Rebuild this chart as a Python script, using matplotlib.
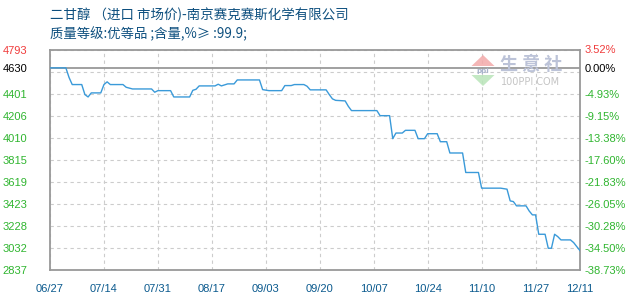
import matplotlib
matplotlib.use('Agg')
import matplotlib.pyplot as plt
import matplotlib.dates as mdates
from matplotlib.patches import Polygon
import pandas as pd

# ---------------- data ----------------
title_line1 = "二甘醇 （进口 市场价)-南京赛克赛斯化学有限公司"
title_line2 = "质量等级:优等品 ;含量,%≥ :99.9;"

dates = [
    "2019-06-27", "2019-07-02", "2019-07-03", "2019-07-04", "2019-07-07", "2019-07-08",
    "2019-07-09", "2019-07-10", "2019-07-13", "2019-07-14", "2019-07-15", "2019-07-16",
    "2019-07-20", "2019-07-21", "2019-07-23", "2019-07-29", "2019-07-30", "2019-07-31",
    "2019-08-04", "2019-08-05", "2019-08-10", "2019-08-11", "2019-08-12", "2019-08-13",
    "2019-08-18", "2019-08-19", "2019-08-20", "2019-08-22", "2019-08-24", "2019-08-25",
    "2019-09-01", "2019-09-02", "2019-09-04", "2019-09-08", "2019-09-09", "2019-09-11",
    "2019-09-12", "2019-09-15", "2019-09-16", "2019-09-17", "2019-09-22", "2019-09-23",
    "2019-09-24", "2019-09-25", "2019-09-28", "2019-09-29", "2019-09-30", "2019-10-08",
    "2019-10-09", "2019-10-12", "2019-10-13", "2019-10-14", "2019-10-16", "2019-10-17",
    "2019-10-20", "2019-10-21", "2019-10-23", "2019-10-24", "2019-10-27", "2019-10-28",
    "2019-10-30", "2019-10-31", "2019-11-04", "2019-11-05", "2019-11-09", "2019-11-10",
    "2019-11-16", "2019-11-18", "2019-11-19", "2019-11-20", "2019-11-21", "2019-11-24",
    "2019-11-25", "2019-11-26", "2019-11-27", "2019-11-28", "2019-11-30", "2019-12-01",
    "2019-12-02", "2019-12-03", "2019-12-04", "2019-12-05", "2019-12-08", "2019-12-09",
    "2019-12-10", "2019-12-11",
]
prices = [
    4630, 4630, 4545, 4482, 4482, 4393,
    4372, 4408, 4408, 4482, 4506, 4482,
    4482, 4458, 4443, 4443, 4414, 4428,
    4428, 4372, 4372, 4431, 4440, 4470,
    4470, 4485, 4470, 4488, 4488, 4523,
    4523, 4437, 4428, 4428, 4473, 4473,
    4482, 4482, 4467, 4435, 4435, 4393,
    4355, 4342, 4337, 4289, 4251, 4251,
    4206, 4206, 4002, 4052, 4052, 4076,
    4076, 4002, 4002, 4046, 4046, 3975,
    3975, 3875, 3875, 3702, 3702, 3563,
    3563, 3554, 3450, 3444, 3406, 3406,
    3360, 3326, 3326, 3154, 3154, 3030,
    3030, 3154, 3133, 3104, 3104, 3080,
    3044, 3009,
]

x_tick_dates = ["2019-06-27", "2019-07-14", "2019-07-31", "2019-08-17", "2019-09-03",
                "2019-09-20", "2019-10-07", "2019-10-24", "2019-11-10", "2019-11-27",
                "2019-12-11"]
x_tick_labels = ["06/27", "07/14", "07/31", "08/17", "09/03", "09/20", "10/07",
                 "10/24", "11/10", "11/27", "12/11"]

base_price = 4630
base_label_left = "4630"
base_label_right = "0.00%"
y_min, y_max = 2837, 4793
y_grid_values = [2837.0, 3032.6, 3228.2, 3423.8, 3619.4, 3815.0, 4010.6,
                 4206.2, 4401.8, 4597.4, 4793.0]
y_left_labels = ["2837", "3032", "3228", "3423", "3619", "3815", "4010",
                 "4206", "4401", "", "4793"]
y_right_labels = ["-38.73%", "-34.50%", "-30.28%", "-26.05%", "-21.83%", "-17.60%",
                  "-13.38%", "-9.15%", "-4.93%", "", "3.52%"]

# ---------------- style ----------------
GREEN = "#2fb52f"
RED = "#f03c3c"
BLUE_TXT = "#0b5a8e"
TITLE_C = "#0d4f7e"
LINE_C = "#3a9ad9"
GRID_C = "#cccccc"
SPINE_C = "#999999"

x = pd.to_datetime(dates)
xt = pd.to_datetime(x_tick_dates)

fig = plt.figure(figsize=(6.3, 3.0), dpi=100)
fig.patch.set_facecolor("white")
ax = fig.add_axes([50 / 630, 30 / 300, 530 / 630, 220.5 / 300])

ax.plot(x, prices, color=LINE_C, lw=1.0, zorder=3)
ax.axhline(base_price, color=SPINE_C, lw=1.3, zorder=2)

ax.set_xlim(xt[0], xt[-1])
ax.set_ylim(y_min, y_max)

ax.set_xticks(xt)
ax.set_xticklabels(x_tick_labels)
ax.set_yticks(y_grid_values)
ax.set_yticklabels(y_left_labels)
ax.set_yticks([base_price], minor=True)
ax.set_yticklabels([base_label_left], minor=True)

ax.grid(True, which="major", color=GRID_C, ls=(0, (3, 3)), lw=0.8, zorder=1)

tick_font = dict(family="Liberation Sans", size=8)
ax.tick_params(axis="both", which="both", length=0)
ax.tick_params(axis="y", which="both", pad=16)
ax.tick_params(axis="x", pad=10, colors=BLUE_TXT)
for lab in ax.get_xticklabels():
    lab.set_fontproperties(tick_font)
    lab.set_color(BLUE_TXT)
for i, lab in enumerate(ax.get_yticklabels()):
    lab.set_fontproperties(tick_font)
    lab.set_color(RED if i == len(y_left_labels) - 1 else GREEN)
    lab.set_horizontalalignment("right")
for lab in ax.get_yticklabels(minor=True):
    lab.set_fontproperties(tick_font)
    lab.set_color("black")

for s in ax.spines.values():
    s.set_color(SPINE_C)
    s.set_linewidth(1.3)

ax2 = ax.twinx()
ax2.set_ylim(y_min, y_max)
ax2.set_yticks(y_grid_values)
ax2.set_yticklabels(y_right_labels)
ax2.set_yticks([base_price], minor=True)
ax2.set_yticklabels([base_label_right], minor=True)
ax2.tick_params(axis="y", which="both", length=0, pad=3.5)
for i, lab in enumerate(ax2.get_yticklabels()):
    lab.set_fontproperties(tick_font)
    lab.set_color(RED if i == len(y_right_labels) - 1 else GREEN)
for lab in ax2.get_yticklabels(minor=True):
    lab.set_fontproperties(tick_font)
    lab.set_color("black")
for s in ax2.spines.values():
    s.set_visible(False)

# titles
cjk = ["Noto Sans CJK SC", "DejaVu Sans"]
fig.text(50 / 630, 1 - 15 / 300, title_line1, family=cjk, fontsize=9.7,
         color=TITLE_C, va="center", ha="left")
fig.text(50 / 630, 1 - 34 / 300, title_line2, family=cjk, fontsize=9.6,
         color=TITLE_C, va="center", ha="left")

# watermark logo
def fx(px):
    return px / 630

def fy(py):
    return 1 - py / 300

fig.patches.append(Polygon([(fx(471.5), fy(66)), (fx(494.5), fy(66)), (fx(483), fy(55))],
                           closed=True, transform=fig.transFigure,
                           facecolor="#f3a9a9", edgecolor="none", alpha=0.85, zorder=5))
fig.patches.append(Polygon([(fx(471.5), fy(75)), (fx(494.5), fy(75)), (fx(483), fy(86))],
                           closed=True, transform=fig.transFigure,
                           facecolor="#b9e5b9", edgecolor="none", alpha=0.85, zorder=5))
fig.text(fx(483), fy(70.5), "ppi", family="DejaVu Sans", fontsize=5, color="#a9b4cc",
         ha="center", va="center", weight="bold")
fig.text(fx(500), fy(65), "生 意 社", family=cjk, fontsize=13, color="#bcc3d8",
         ha="left", va="center", weight="bold")
fig.text(fx(501), fy(81.5), "100PPI.COM", family="DejaVu Sans", fontsize=7,
         color="#c4c4c4", ha="left", va="center")

fig.savefig("out.png", dpi=100, facecolor="white")
